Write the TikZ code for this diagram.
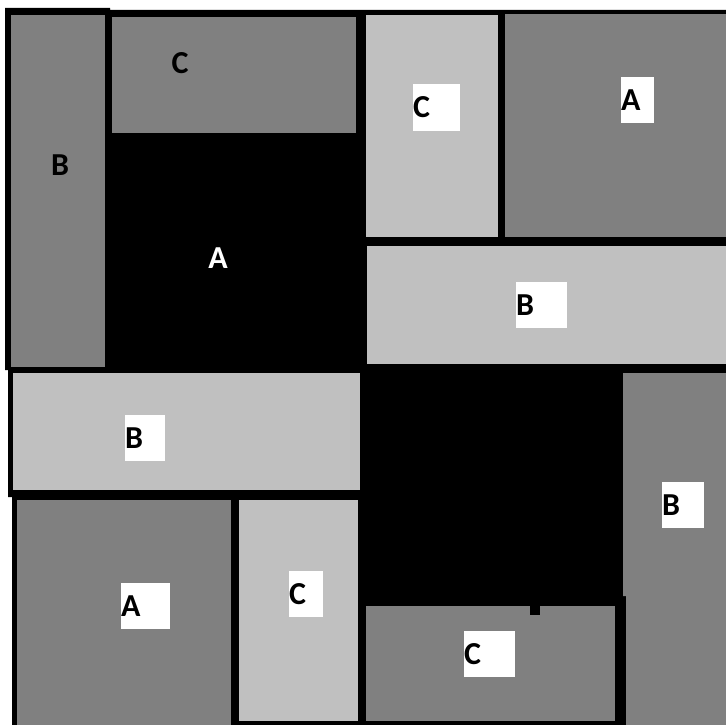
\documentclass[tikz,border=0pt]{standalone}
\usepackage{fontspec}
\setmainfont{Carlito}
\definecolor{midgray}{HTML}{808080}
\definecolor{lightgray}{HTML}{C0C0C0}
\tikzset{
  lbl/.style={fill=white, inner sep=0pt, minimum height=46pt, align=left,
    font=\bfseries\fontsize{32}{32}\selectfont},
  txt/.style={inner sep=0pt, font=\bfseries\fontsize{32}{32}\selectfont}
}
\begin{document}
\begin{tikzpicture}[x=1pt,y=-1pt]
  \useasboundingbox (0,0) rectangle (726,725);
  % black frame and the two black squares
  \fill[black] (5,8) -- (110,8) -- (110,10) -- (726,10) -- (726,725) -- (12,725)
    -- (12,497) -- (8,497) -- (8,370) -- (5,370) -- cycle;
  % top left quarter
  \fill[midgray] (11,15) rectangle (105,367);
  \fill[midgray] (112,17) rectangle (356,133);
  % top right quarter
  \fill[lightgray] (366,15) rectangle (498,237);
  \fill[midgray] (505,14) rectangle (726,237);
  \fill[lightgray] (367,246) rectangle (726,364);
  % bottom left quarter
  \fill[lightgray] (13,373) rectangle (360,490);
  \fill[midgray] (17,500) rectangle (231,725);
  \fill[lightgray] (239,500) rectangle (358,721);
  % bottom right quarter
  \fill[midgray] (623,373) -- (726,373) -- (726,725) -- (626,725) -- (626,596)
    -- (623,596) -- cycle;
  \fill[midgray] (366,606) rectangle (615,721);
  \fill[black] (530,606) rectangle (540,615);
  % labels
  \node[txt] (cTL) at (180,63) {C};
  \node[txt] (bTL) at (60,165) {B};
  \node[txt, text=white] (aTL) at (218,258) {A};
  \node[lbl, text width=47pt] (cTR) at (436.5,107.5) {C};
  \node[lbl, text width=33pt] (aTR) at (637.5,100) {A};
  \node[lbl, text width=51pt] (bTR) at (541.5,305) {B};
  \node[lbl, text width=40pt] (bBL) at (145,438) {B};
  \node[lbl, text width=49pt] (aBL) at (145.5,606) {A};
  \node[lbl, text width=34pt] (cBL) at (306,594) {C};
  \node[lbl, text width=42pt] (bBR) at (683,505) {B};
  \node[lbl, text width=51pt] (cBR) at (489.5,654) {C};
\end{tikzpicture}
\end{document}
